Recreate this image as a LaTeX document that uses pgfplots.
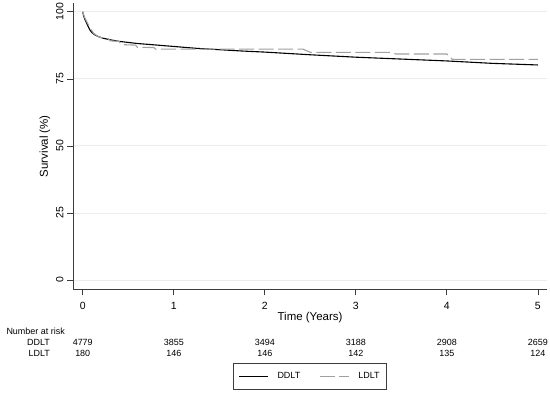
\documentclass[border=0pt]{standalone}
\usepackage{fontspec}
\setmainfont{Liberation Sans}
\usepackage{pgfplots}
\pgfplotsset{compat=1.18}
\definecolor{gridc}{RGB}{230,238,241}
\definecolor{ldltc}{RGB}{160,160,160}
\definecolor{axc}{RGB}{60,60,60}
\begin{document}
\begin{tikzpicture}
\useasboundingbox (-73bp,-105bp) rectangle (477bp,289bp);
\begin{axis}[
 at={(0,0)}, anchor=south west,
 scale only axis, width=474bp, height=285.7bp,
 xmin=-0.107, xmax=5.1, ymin=-3.36, ymax=103.2,
 axis x line*=bottom, axis y line*=left,
 axis line style={axc, line width=0.8bp},
 xtick={0,1,2,3,4,5}, ytick={0,25,50,75,100},
 tick align=outside, major tick length=6bp,
 tick style={axc, line width=0.8bp},
 ymajorgrids, grid style={gridc, line width=0.9bp},
 /pgf/number format/assume math mode=true,
 ticklabel style={font=\fontsize{10.5}{12}\selectfont},
 xticklabel style={yshift=-3.5bp},
 yticklabel style={rotate=90, anchor=south},
 xlabel={Time (Years)}, ylabel={Survival (\%)},
 label style={font=\fontsize{11.5}{13}\selectfont},
 xlabel style={at={(axis description cs:0.5,0)}, anchor=center, yshift=-29bp},
 ylabel style={at={(axis description cs:-0.059,0.5)}, anchor=center},
 clip=false,
 legend columns=2,
 legend style={at={(axis description cs:0.5,0)}, anchor=north, yshift=-74bp,
   draw=axc, line width=0.8bp, font=\fontsize{9}{11}\selectfont,
   inner xsep=5bp, inner ysep=7bp,
   /tikz/every odd column/.append style={column sep=7bp},
   /tikz/every even column/.append style={column sep=17bp}},
 legend image code/.code={\draw[#1] (0bp,0bp) -- (29bp,0bp);},
]
\addplot[black, line width=1.1bp] coordinates {
(0,100) (0.01,98.5) (0.02,97.5) (0.04,96) (0.06,94.5) (0.08,93.2) (0.1,92.3)
(0.13,91.5) (0.17,90.8) (0.22,90.2) (0.3,89.6) (0.4,89.0) (0.5,88.6) (0.6,88.2)
(0.75,87.8) (1.0,87.1) (1.25,86.4) (1.5,85.9) (1.75,85.4) (2.0,85.0) (2.5,84.0)
(3.0,83.1) (3.5,82.4) (4.0,81.7) (4.5,80.8) (5.0,80.2)
};
\addlegendentry{DDLT}
\addplot[ldltc, line width=1.1bp, dash pattern=on 15bp off 4.5bp] coordinates {
(0,100) (0.02,98) (0.05,96) (0.08,94) (0.12,92) (0.16,91) (0.22,90.2) (0.28,90.0) (0.3,89.2)
(0.4,89.0) (0.42,87.8) (0.58,87.6) (0.6,86.8) (0.78,86.7) (0.8,86.1) (2.42,86.1) (2.5,84.9)
(3.38,84.9) (3.44,84.3) (4.0,84.3) (4.06,82.3) (5.0,82.3)
};
\addlegendentry{LDLT}
\begin{scope}[font=\fontsize{9}{10}\selectfont]
\node[anchor=west, xshift=-70bp, yshift=-42bp] at (rel axis cs:0,0) {Number at risk};
\node[anchor=east, xshift=-19.5bp, yshift=-53bp] at (rel axis cs:0,0) {DDLT};
\node[anchor=east, xshift=-19.5bp, yshift=-64bp] at (rel axis cs:0,0) {LDLT};
\node[yshift=-53bp] at (axis cs:0,-3.36) {4779};
\node[yshift=-53bp] at (axis cs:1,-3.36) {3855};
\node[yshift=-53bp] at (axis cs:2,-3.36) {3494};
\node[yshift=-53bp] at (axis cs:3,-3.36) {3188};
\node[yshift=-53bp] at (axis cs:4,-3.36) {2908};
\node[yshift=-53bp] at (axis cs:5,-3.36) {2659};
\node[yshift=-64bp] at (axis cs:0,-3.36) {180};
\node[yshift=-64bp] at (axis cs:1,-3.36) {146};
\node[yshift=-64bp] at (axis cs:2,-3.36) {146};
\node[yshift=-64bp] at (axis cs:3,-3.36) {142};
\node[yshift=-64bp] at (axis cs:4,-3.36) {135};
\node[yshift=-64bp] at (axis cs:5,-3.36) {124};
\end{scope}
\end{axis}
\end{tikzpicture}
\end{document}
